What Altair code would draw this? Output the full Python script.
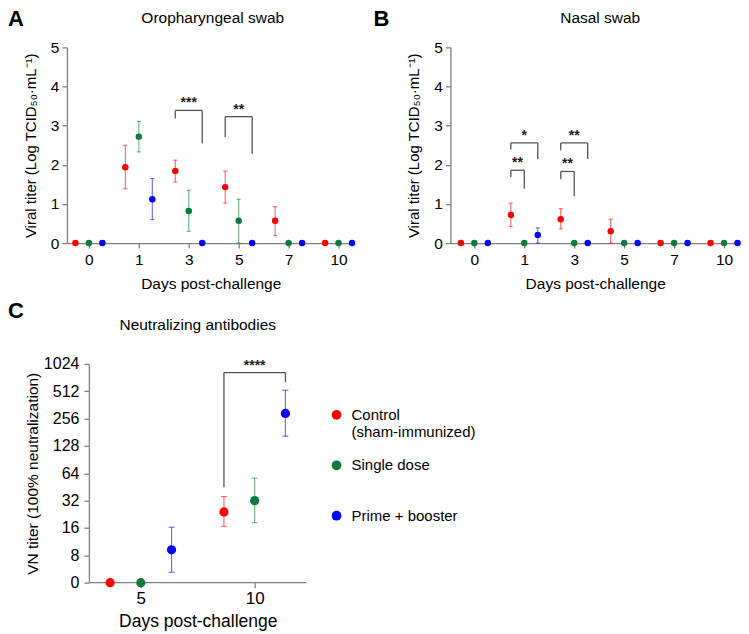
import json
import altair as alt
import pandas as pd

FONT = "Liberation Sans"

# ---------------- data ----------------
groups = ["Control (sham-immunized)", "Single dose", "Prime + booster"]
legend_labels = ["Control\n(sham-immunized)", "Single dose", "Prime + booster"]
colors = ["#FF0000", "#0A7B3C", "#0000FF"]
group_offsets = [-0.27, 0.0, 0.27]

swab_days = ["0", "1", "3", "5", "7", "10"]

# Oropharyngeal swab (log TCID50/mL)
oro_control = [0, 1.94, 1.84, 1.43, 0.57, 0]
oro_control_lo = [None, 1.39, 1.56, 1.02, 0.19, None]
oro_control_hi = [None, 2.50, 2.12, 1.84, 0.93, None]
oro_single = [0, 2.72, 0.82, 0.57, 0, 0]
oro_single_lo = [None, 2.33, 0.30, 0.0, None, None]
oro_single_hi = [None, 3.11, 1.35, 1.12, None, None]
oro_prime = [0, 1.12, 0, 0, 0, 0]
oro_prime_lo = [None, 0.60, None, None, None, None]
oro_prime_hi = [None, 1.65, None, None, None, None]

# Nasal swab (log TCID50/mL)
nasal_control = [0, 0.72, 0.61, 0.30, 0, 0]
nasal_control_lo = [None, 0.42, 0.36, 0.0, None, None]
nasal_control_hi = [None, 1.02, 0.88, 0.61, None, None]
nasal_single = [0, 0, 0, 0, 0, 0]
nasal_single_lo = [None, None, None, None, None, None]
nasal_single_hi = [None, None, None, None, None, None]
nasal_prime = [0, 0.21, 0, 0, 0, 0]
nasal_prime_lo = [None, 0.0, None, None, None, None]
nasal_prime_hi = [None, 0.39, None, None, None, None]

# Neutralizing antibodies (VN titer)
vn_days = ["5", "10"]
vn_control = [0, 24]
vn_control_lo = [None, 16.7]
vn_control_hi = [None, 35.5]
vn_single = [0, 32]
vn_single_lo = [None, 18.3]
vn_single_hi = [None, 56.6]
vn_prime = [9.2, 292]
vn_prime_lo = [5.2, 164]
vn_prime_hi = [16.3, 526]
vn_floor = 4  # axis position labelled "0"
vn_ticks = [4, 8, 16, 32, 64, 128, 256, 512, 1024]
vn_axis_span = [-0.456, 1.456]  # visible extent of the day axis (in day-index units)

# significance brackets: (day index, left group, right group, top, left-leg end, right-leg end, label)
oro_brackets = [
    (2, 0, 2, 3.39, 3.18, 2.55, "***"),
    (3, 0, 2, 3.23, 2.71, 2.28, "**"),
]
nasal_brackets = [
    (1, 0, 2, 2.56, 2.39, 2.15, "*"),
    (1, 0, 1, 1.86, 1.69, 1.39, "**"),
    (2, 0, 2, 2.56, 2.37, 2.15, "**"),
    (2, 0, 1, 1.83, 1.63, 1.20, "**"),
]
vn_brackets = [
    (1, 0, 2, 822, 45, 645, "****"),
]


# ---------------- tables ----------------
def long_table(means, los, his, floor=None):
    rows = []
    for gi, g in enumerate(groups):
        for di, v in enumerate(means[gi]):
            val = v
            if floor is not None and v <= 0:
                val = floor
            rows.append({"group": g, "x": di + group_offsets[gi], "value": val,
                         "lo": los[gi][di], "hi": his[gi][di]})
    return pd.DataFrame(rows)


def caps_table(df):
    rows = []
    for _, r in df.iterrows():
        if r["lo"] is not None and not pd.isna(r["lo"]):
            rows.append({"group": r["group"], "x": r["x"], "cap": r["lo"]})
            rows.append({"group": r["group"], "x": r["x"], "cap": r["hi"]})
    return pd.DataFrame(rows)


def bracket_tables(brackets):
    segs, labels = [], []
    for di, gl, gr, top, lb, rb, lab in brackets:
        xl = di + group_offsets[gl]
        xr = di + group_offsets[gr]
        segs.append({"x": xl, "x2": xr, "y": top, "y2": top})
        segs.append({"x": xl, "x2": xl, "y": lb, "y2": top})
        segs.append({"x": xr, "x2": xr, "y": rb, "y2": top})
        labels.append({"x": (xl + xr) / 2, "y": top, "label": lab})
    return pd.DataFrame(segs), pd.DataFrame(labels)


color_enc = alt.Color("group:N", scale=alt.Scale(domain=groups, range=colors), legend=None)


def text_layer(txt, x, y, **kw):
    return alt.Chart(pd.DataFrame({"t": [txt]})).mark_text(font=FONT, color="black", **kw).encode(
        x=alt.value(x), y=alt.value(y), text="t:N")


def panel(df, brackets, xdom, yscale, xaxis, yaxis, title, title_x, title_y,
          letter, letter_x, letter_y, pt_size, cap_size, extra=None):
    caps = caps_table(df)
    segs, stars = bracket_tables(brackets)
    xs = alt.Scale(domain=xdom, nice=False, zero=False, padding=0)

    def X(f):
        return alt.X(f, scale=xs, axis=xaxis)

    def Y(f):
        return alt.Y(f, scale=yscale, axis=yaxis)

    layers = []
    if extra is not None:
        layers.append(alt.Chart(extra).mark_rule(color="#808080", strokeWidth=1.3).encode(
            x=X("x:Q"), x2="x2:Q", y=Y("y:Q")))
    layers.append(alt.Chart(df).transform_filter("isValid(datum.lo)").mark_rule(
        strokeWidth=1.1, opacity=0.6).encode(x=X("x:Q"), y=Y("lo:Q"), y2="hi:Q", color=color_enc))
    layers.append(alt.Chart(caps).mark_tick(orient="horizontal", size=cap_size, thickness=1.1,
                                            opacity=0.6).encode(x=X("x:Q"), y=Y("cap:Q"),
                                                                color=color_enc))
    layers.append(alt.Chart(df).mark_circle(size=pt_size, opacity=1).encode(
        x=X("x:Q"), y=Y("value:Q"), color=color_enc))
    layers.append(alt.Chart(segs).mark_rule(color="#555555", strokeWidth=1.3).encode(
        x=X("x:Q"), x2="x2:Q", y=Y("y:Q"), y2="y2:Q"))
    layers.append(alt.Chart(stars).mark_text(font=FONT, fontSize=14, fontWeight="bold",
                                             color="#222222", baseline="alphabetic", dy=-3).encode(
        x=X("x:Q"), y=Y("y:Q"), text="label:N"))
    layers.append(text_layer(title, title_x, title_y, fontSize=15.5, align="center",
                             baseline="top"))
    layers.append(text_layer(letter, letter_x, letter_y, fontSize=22, fontWeight="bold",
                             align="left", baseline="top"))
    return alt.layer(*layers)


def swab_axes():
    labexpr = json.dumps(swab_days) + "[datum.value]"
    xax = alt.Axis(values=list(range(len(swab_days))), labelExpr=labexpr,
                   title="Days post-challenge", tickSize=5, labelPadding=4,
                   labelFontSize=15.5, titleFontSize=15.5, titlePadding=9)
    yax = alt.Axis(values=[0, 1, 2, 3, 4, 5], title="Viral titer (Log TCID₅₀·mL⁻¹)",
                   tickSize=5, labelPadding=3, labelFontSize=15.5, titleFontSize=15,
                   titlePadding=12)
    return xax, yax


swab_y = alt.Scale(domain=[0, 5], nice=False, padding=0)

xa, ya = swab_axes()
chart_a = panel(long_table([oro_control, oro_single, oro_prime],
                           [oro_control_lo, oro_single_lo, oro_prime_lo],
                           [oro_control_hi, oro_single_hi, oro_prime_hi]),
                oro_brackets, [-0.44, 5.32], swab_y, xa, ya,
                "Oropharyngeal swab", 146, -36, "A", -59, -38, 42, 4
                ).properties(width=288, height=196)

xb, yb = swab_axes()
chart_b = panel(long_table([nasal_control, nasal_single, nasal_prime],
                           [nasal_control_lo, nasal_single_lo, nasal_prime_lo],
                           [nasal_control_hi, nasal_single_hi, nasal_prime_hi]),
                nasal_brackets, [-0.48, 5.32], swab_y, xb, yb,
                "Nasal swab", 150, -36, "B", -77, -38, 42, 4
                ).properties(width=290, height=196)

# panel C: plot area starts at the same x as panel A; its y axis is drawn 22 px inside
C_SHIFT = 22
C_W = 218
c_step = C_W / (vn_axis_span[1] - vn_axis_span[0])
c_xdom = [vn_axis_span[0] - C_SHIFT / c_step, vn_axis_span[1]]

xc = alt.Axis(values=[0, 1], labelExpr=json.dumps(vn_days) + "[datum.value]",
              title="Days post-challenge", tickSize=5, labelPadding=3, domain=False,
              labelFontSize=17, titleFontSize=17.5, titlePadding=6, titleX=C_SHIFT + C_W / 2)
yc = alt.Axis(values=vn_ticks,
              labelExpr="datum.value == %d ? '0' : format(datum.value, 'd')" % vn_floor,
              title="VN titer (100% neutralization)", tickSize=5, labelPadding=5,
              labelFontSize=16, titleFontSize=15.5, titlePadding=3, offset=-C_SHIFT)
baseline_df = pd.DataFrame({"x": [vn_axis_span[0]], "x2": [vn_axis_span[1]], "y": [vn_floor]})
main_c = panel(long_table([vn_control, vn_single, vn_prime],
                          [vn_control_lo, vn_single_lo, vn_prime_lo],
                          [vn_control_hi, vn_single_hi, vn_prime_hi], floor=vn_floor),
               vn_brackets, c_xdom,
               alt.Scale(type="log", base=2, domain=[vn_floor, 1024], nice=False, padding=0),
               xc, yc, "Neutralizing antibodies", C_SHIFT + 109, -46, "C", -59, -63.5, 85, 6,
               extra=baseline_df)

leg_df = pd.DataFrame({"group": groups, "label": legend_labels})
leg_y = alt.Y("group:N", scale=alt.Scale(type="point", domain=groups, range=[51, 152], padding=0),
              axis=None)
leg_pts = alt.Chart(leg_df).mark_circle(size=95, opacity=1).encode(
    x=alt.value(270), y=leg_y, color=color_enc)
leg_txt = alt.Chart(leg_df).mark_text(font=FONT, fontSize=15, align="left", baseline="alphabetic",
                                      dy=5, lineBreak="\n", lineHeight=17, color="black").encode(
    x=alt.value(285), y=leg_y, text="label:N")
legend_layer = alt.layer(leg_pts, leg_txt)

chart_c = alt.layer(main_c, legend_layer).resolve_scale(y="independent").properties(
    width=C_SHIFT + C_W, height=219)

row1 = alt.hconcat(chart_a, chart_b, spacing=18).resolve_scale(x="independent", y="independent")

chart = alt.vconcat(row1, chart_c, spacing=7).resolve_scale(
    x="independent", y="independent").properties(padding=0).configure_view(
    stroke=None).configure_axis(
    domainColor="#808080", tickColor="#808080", domainWidth=1.3, tickWidth=1.3,
    grid=False, labelFont=FONT, titleFont=FONT, labelColor="black", titleColor="black",
    titleFontWeight="normal")

chart.save("out.html", embed_options={"renderer": "svg", "actions": False})
